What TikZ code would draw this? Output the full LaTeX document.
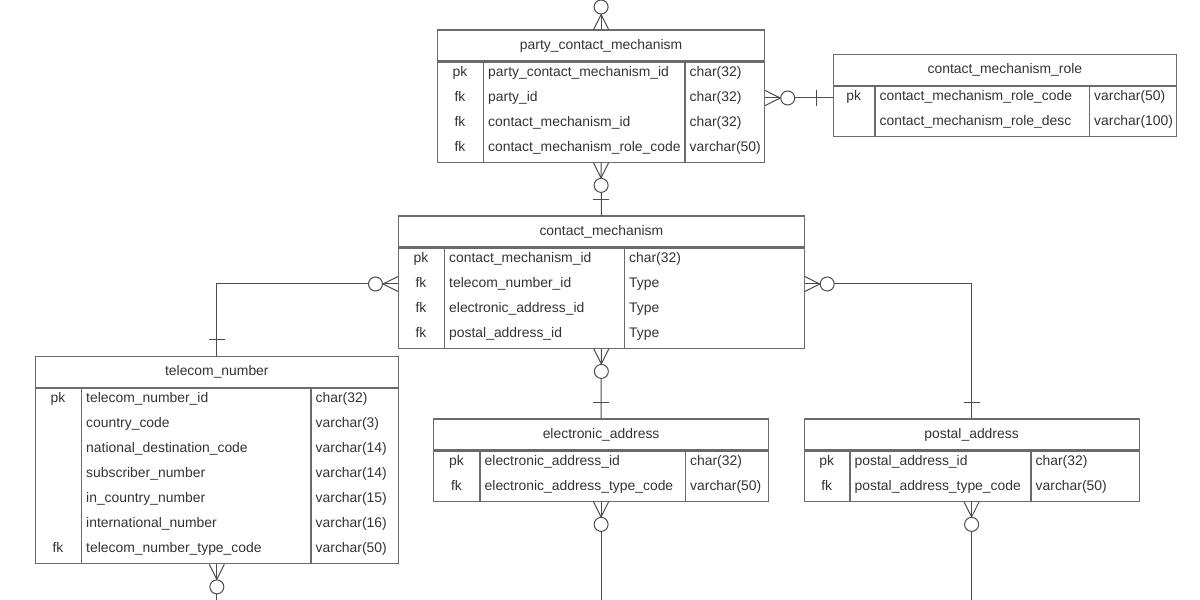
\documentclass[tikz,border=0pt]{standalone}
\usepackage{fontspec}
\setmainfont{Liberation Sans}
\usetikzlibrary{positioning,calc}

\begin{document}
\begin{tikzpicture}[
    x=1pt, y=1pt,
    font=\fontsize{13.9pt}{16pt}\selectfont,
    tabline/.style={draw=black!58, line width=1.2pt},
    relline/.style={draw=black!70, line width=1pt},
    tabhead/.style={rectangle, tabline, minimum height=31pt, inner sep=0pt, anchor=north west, text=black!80, text centered},
    tabbody/.style={rectangle, tabline, inner sep=0pt, anchor=north west},
    keycell/.style={inner sep=0pt, text height=10pt, text depth=3pt, text=black!80},
    fieldcell/.style={anchor=west, inner sep=4.5pt, text height=10pt, text depth=3pt, text=black!80},
    pics/zeromany/.style={code={
        \draw[relline] (0,-7.5) -- (15,0) -- (0,7.5);
        \draw[relline, fill=white] (22.5,0) circle (7);
    }},
    pics/onebar/.style={code={
        \draw[relline] (16,-8) -- (16,8);
    }},
]
    \path[use as bounding box] (0,0) rectangle (1200,600);
    \clip (0,0) rectangle (1200,600);

    % party_contact_mechanism
    \node[tabhead, minimum width=327pt] (pcm) at (437,570.5) {party\_contact\_mechanism};
    \node[tabbody, minimum width=327pt, minimum height=100pt] (pcmbody) at (pcm.south west) {};
    \foreach \k/\f/\t [count=\i] in {pk/party\_contact\_mechanism\_id/char(32),
        fk/party\_id/char(32), fk/contact\_mechanism\_id/char(32),
        fk/contact\_mechanism\_role\_code/varchar(50)} {
        \node[keycell] (pcm-k\i) at (460,552-25*\i) {\k};
        \node[fieldcell] (pcm-f\i) at (483.5,552-25*\i) {\f};
        \node[fieldcell] (pcm-t\i) at (685,552-25*\i) {\t};
    }
    \draw[tabline] (pcm-f1.west |- pcmbody.north) -- (pcm-f1.west |- pcmbody.south);
    \draw[tabline] (pcm-t1.west |- pcmbody.north) -- (pcm-t1.west |- pcmbody.south);

    % contact_mechanism_role
    \node[tabhead, minimum width=343.5pt] (role) at (832.5,546) {contact\_mechanism\_role};
    \node[tabbody, minimum width=343.5pt, minimum height=50pt] (rolebody) at (role.south west) {};
    \foreach \k/\f/\t [count=\i] in {pk/contact\_mechanism\_role\_code/varchar(50),
        /contact\_mechanism\_role\_desc/varchar(100)} {
        \node[keycell] (role-k\i) at (853.75,527.5-25*\i) {\k};
        \node[fieldcell] (role-f\i) at (875,527.5-25*\i) {\f};
        \node[fieldcell] (role-t\i) at (1089.5,527.5-25*\i) {\t};
    }
    \draw[tabline] (role-f1.west |- rolebody.north) -- (role-f1.west |- rolebody.south);
    \draw[tabline] (role-t1.west |- rolebody.north) -- (role-t1.west |- rolebody.south);

    % contact_mechanism
    \node[tabhead, minimum width=405.5pt] (cm) at (398,384.5) {contact\_mechanism};
    \node[tabbody, minimum width=405.5pt, minimum height=100pt] (cmbody) at (cm.south west) {};
    \foreach \k/\f/\t [count=\i] in {pk/contact\_mechanism\_id/char(32),
        fk/telecom\_number\_id/Type, fk/electronic\_address\_id/Type,
        fk/postal\_address\_id/Type} {
        \node[keycell] (cm-k\i) at (421,366-25*\i) {\k};
        \node[fieldcell] (cm-f\i) at (444.5,366-25*\i) {\f};
        \node[fieldcell] (cm-t\i) at (624.5,366-25*\i) {\t};
    }
    \draw[tabline] (cm-f1.west |- cmbody.north) -- (cm-f1.west |- cmbody.south);
    \draw[tabline] (cm-t1.west |- cmbody.north) -- (cm-t1.west |- cmbody.south);

    % telecom_number
    \node[tabhead, minimum width=363.5pt] (tn) at (34.5,244) {telecom\_number};
    \node[tabbody, minimum width=363.5pt, minimum height=175pt] (tnbody) at (tn.south west) {};
    \foreach \k/\f/\t [count=\i] in {pk/telecom\_number\_id/char(32),
        /country\_code/varchar(3), /national\_destination\_code/varchar(14),
        /subscriber\_number/varchar(14), /in\_country\_number/varchar(15),
        /international\_number/varchar(16), fk/telecom\_number\_type\_code/varchar(50)} {
        \node[keycell] (tn-k\i) at (58,225.5-25*\i) {\k};
        \node[fieldcell] (tn-f\i) at (81.5,225.5-25*\i) {\f};
        \node[fieldcell] (tn-t\i) at (311,225.5-25*\i) {\t};
    }
    \draw[tabline] (tn-f1.west |- tnbody.north) -- (tn-f1.west |- tnbody.south);
    \draw[tabline] (tn-t1.west |- tnbody.north) -- (tn-t1.west |- tnbody.south);

    % electronic_address
    \node[tabhead, minimum width=335pt] (ea) at (433,181.5) {electronic\_address};
    \node[tabbody, minimum width=335pt, minimum height=50pt] (eabody) at (ea.south west) {};
    \foreach \k/\f/\t [count=\i] in {pk/electronic\_address\_id/char(32),
        fk/electronic\_address\_type\_code/varchar(50)} {
        \node[keycell] (ea-k\i) at (456.5,163-25*\i) {\k};
        \node[fieldcell] (ea-f\i) at (480,163-25*\i) {\f};
        \node[fieldcell] (ea-t\i) at (685.5,163-25*\i) {\t};
    }
    \draw[tabline] (ea-f1.west |- eabody.north) -- (ea-f1.west |- eabody.south);
    \draw[tabline] (ea-t1.west |- eabody.north) -- (ea-t1.west |- eabody.south);

    % postal_address
    \node[tabhead, minimum width=335pt] (pa) at (803.5,181.5) {postal\_address};
    \node[tabbody, minimum width=335pt, minimum height=50pt] (pabody) at (pa.south west) {};
    \foreach \k/\f/\t [count=\i] in {pk/postal\_address\_id/char(32),
        fk/postal\_address\_type\_code/varchar(50)} {
        \node[keycell] (pa-k\i) at (826.75,163-25*\i) {\k};
        \node[fieldcell] (pa-f\i) at (850,163-25*\i) {\f};
        \node[fieldcell] (pa-t\i) at (1031,163-25*\i) {\t};
    }
    \draw[tabline] (pa-f1.west |- pabody.north) -- (pa-f1.west |- pabody.south);
    \draw[tabline] (pa-t1.west |- pabody.north) -- (pa-t1.west |- pabody.south);

    % Free ends outside the frame
    \coordinate (pcmout) at (pcm.north |- 0,615);
    \coordinate (tnout) at (tnbody.south |- 0,-15);
    \coordinate (eaout) at (eabody.south |- 0,-15);
    \coordinate (paout) at (pabody.south |- 0,-15);

    % Relationships
    \draw[relline] (pcm.north) -- (pcmout);
    \draw[relline] (pcmbody.south) -- (cm.north);
    \draw[relline] (pcmbody.east |- pcm-k2) -- (rolebody.west |- pcm-k2);
    \draw[relline] (cmbody.west |- cm-k2) -| (tn.north);
    \draw[relline] (cmbody.east |- cm-k2) -| (pa.north);
    \draw[relline] (cmbody.south) -- (ea.north);
    \draw[relline] (tnbody.south) -- (tnout);
    \draw[relline] (eabody.south) -- (eaout);
    \draw[relline] (pabody.south) -- (paout);

    % Cardinality marks
    \pic[rotate=90] at (pcm.north) {zeromany};
    \pic[rotate=-90] at (pcmbody.south) {zeromany};
    \pic at (pcmbody.east |- pcm-k2) {zeromany};
    \pic[rotate=180] at (cmbody.west |- cm-k2) {zeromany};
    \pic at (cmbody.east |- cm-k2) {zeromany};
    \pic[rotate=-90] at (cmbody.south) {zeromany};
    \pic[rotate=-90] at (tnbody.south) {zeromany};
    \pic[rotate=-90] at (eabody.south) {zeromany};
    \pic[rotate=-90] at (pabody.south) {zeromany};
    \pic[rotate=90] at (cm.north) {onebar};
    \pic[rotate=180] at (rolebody.west |- pcm-k2) {onebar};
    \pic[rotate=90] at (tn.north) {onebar};
    \pic[rotate=90] at (pa.north) {onebar};
    \pic[rotate=90] at (ea.north) {onebar};
\end{tikzpicture}
\end{document}
